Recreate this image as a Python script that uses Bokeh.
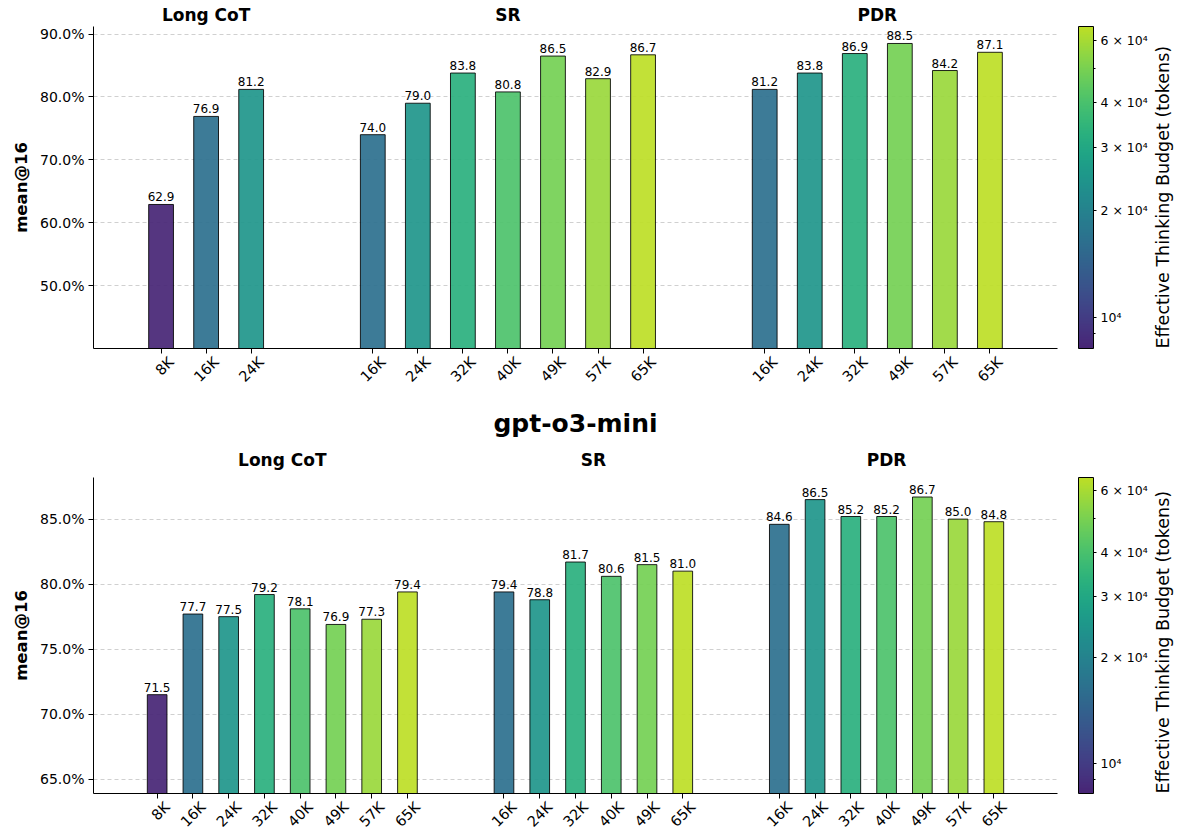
import numpy as np
from bokeh.plotting import figure
from bokeh.models import (ColumnDataSource, FixedTicker, CustomJSTickFormatter, PrintfTickFormatter,
                          LinearAxis, ColorBar, LogColorMapper, Title, Label, Range1d)
from bokeh.layouts import column
from bokeh.palettes import Viridis256
from bokeh.core.properties import value
from bokeh.embed import file_html
from bokeh.resources import INLINE

# ---------------- data ----------------
budget_tokens = {"8K": 8192, "16K": 16384, "24K": 24576, "32K": 32768,
                 "40K": 40960, "49K": 49152, "57K": 57344, "65K": 65536}
method_names = ["Long CoT", "SR", "PDR"]

top_cot_budgets = ["8K", "16K", "24K"]
top_cot_values = [62.9, 76.9, 81.2]
top_sr_budgets = ["16K", "24K", "32K", "40K", "49K", "57K", "65K"]
top_sr_values = [74.0, 79.0, 83.8, 80.8, 86.5, 82.9, 86.7]
top_pdr_budgets = ["16K", "24K", "32K", "49K", "57K", "65K"]
top_pdr_values = [81.2, 83.8, 86.9, 88.5, 84.2, 87.1]

bot_cot_budgets = ["8K", "16K", "24K", "32K", "40K", "49K", "57K", "65K"]
bot_cot_values = [71.5, 77.7, 77.5, 79.2, 78.1, 76.9, 77.3, 79.4]
bot_sr_budgets = ["16K", "24K", "32K", "40K", "49K", "65K"]
bot_sr_values = [79.4, 78.8, 81.7, 80.6, 81.5, 81.0]
bot_pdr_budgets = ["16K", "24K", "32K", "40K", "49K", "57K", "65K"]
bot_pdr_values = [84.6, 86.5, 85.2, 85.2, 86.7, 85.0, 84.8]

top_yticks = [50, 60, 70, 80, 90]
bot_yticks = [65, 70, 75, 80, 85]
cbar_ticks = [10000, 20000, 30000, 40000, 60000]
cbar_minor = [9000, 50000]
cbar_labels = ["10⁴", "2 × 10⁴", "3 × 10⁴", "4 × 10⁴", "6 × 10⁴"]
bottom_title = "gpt-o3-mini"
cbar_title = "Effective Thinking Budget (tokens)"
y_label = "mean@16"

# ---------------- style ----------------
FONT = "DejaVu Sans"
GAP = 1.7
BAR_W = 0.55
PAL = Viridis256[26:231]
TOK_LO, TOK_HI = 8192, 65536
FRAME_W = 964
XLAB_SIZE = 14.5
LABEL_SHIFT_PX = 0.354 * 1.956 * XLAB_SIZE
HAS_ORIENT = "axis_label_orientation" in LinearAxis.properties()
EMPTY = "return '';"


def make_panel(groups, y_lo, y_hi, yticks, pad, frame_h, min_top, min_bottom,
               group_standoff, title_text=None):
    xs, labels, vals, toks, centers = [], [], [], [], []
    start = 0.0
    for budgets, values in groups:
        pos = [start + i for i in range(len(budgets))]
        centers.append((pos[0] + pos[-1]) / 2.0)
        xs += pos
        labels += budgets
        vals += values
        toks += [budget_tokens[b] for b in budgets]
        start = pos[-1] + 1 + GAP
    src = ColumnDataSource(dict(x=xs, v=vals, tok=toks,
                                lbl=[f"{v:.1f}" for v in vals]))
    mapper = LogColorMapper(palette=PAL, low=TOK_LO, high=TOK_HI)
    x_lo, x_hi = xs[0] - pad, xs[-1] + pad

    p = figure(frame_width=FRAME_W, frame_height=frame_h,
               x_range=(x_lo, x_hi), y_range=(y_lo, y_hi),
               output_backend="svg", toolbar_location=None, tools="", title=None,
               min_border_left=93, min_border_right=116,
               min_border_top=min_top, min_border_bottom=min_bottom)
    p.outline_line_color = None
    p.background_fill_color = "white"
    p.xgrid.visible = False
    p.ygrid.ticker = FixedTicker(ticks=yticks)
    p.ygrid.grid_line_color = "#b0b0b0"
    p.ygrid.grid_line_alpha = 0.6
    p.ygrid.grid_line_dash = "4 3"

    p.vbar(x="x", top="v", bottom=0, width=BAR_W, source=src,
           fill_color={"field": "tok", "transform": mapper}, fill_alpha=0.92,
           line_color="black", line_width=1, line_alpha=0.85)
    p.text(x="x", y="v", text="lbl", source=src, text_align="center",
           text_baseline="bottom", y_offset=-3, text_font_size="12px",
           text_font=value(FONT), text_color="black")

    ya = p.yaxis[0]
    ya.ticker = FixedTicker(ticks=yticks)
    ya.formatter = PrintfTickFormatter(format="%.1f%%")
    ya.major_label_text_font_size = "14px"
    ya.major_label_text_font = FONT
    ya.major_label_text_color = "black"
    ya.axis_label = y_label
    ya.axis_label_text_font = FONT
    ya.axis_label_text_font_style = "bold"
    ya.axis_label_text_font_size = "16.5px"
    ya.axis_label_text_color = "black"
    ya.axis_label_standoff = 6
    ya.major_tick_in = 0
    ya.major_tick_out = 5
    ya.minor_tick_line_color = None
    ya.axis_line_color = "black"
    ya.major_label_standoff = 4

    # tick marks at the bar centres (labels drawn by a second axis)
    xa = p.xaxis[0]
    xa.ticker = FixedTicker(ticks=xs)
    xa.formatter = CustomJSTickFormatter(code=EMPTY)
    xa.major_label_text_font_size = "1px"
    xa.major_label_standoff = 0
    xa.major_tick_in = 0
    xa.major_tick_out = 5
    xa.minor_tick_line_color = None
    xa.axis_line_color = "black"

    # rotated labels, centred on their ticks (anchor shifted right by ~half a label)
    dx = LABEL_SHIFT_PX * (x_hi - x_lo) / FRAME_W
    p.extra_x_ranges = {"lab": Range1d(x_lo - dx, x_hi - dx)}
    la = LinearAxis(x_range_name="lab", ticker=FixedTicker(ticks=xs),
                    formatter=CustomJSTickFormatter(args=dict(labels=labels),
                                                    code="return labels[ticks.indexOf(tick)];"),
                    axis_line_color=None, major_tick_line_color=None,
                    minor_tick_line_color=None, major_tick_in=0, major_tick_out=0,
                    minor_tick_in=0, minor_tick_out=0,
                    major_label_orientation=np.pi / 4, major_label_standoff=6,
                    major_label_text_font=FONT, major_label_text_font_size=f"{XLAB_SIZE}px",
                    major_label_text_color="black")
    p.add_layout(la, "below")

    ga = LinearAxis(ticker=FixedTicker(ticks=centers),
                    formatter=CustomJSTickFormatter(args=dict(names=method_names),
                                                    code="return names[ticks.indexOf(tick)];"),
                    axis_line_color=None, major_tick_line_color=None,
                    minor_tick_line_color=None, major_tick_in=0, major_tick_out=0,
                    minor_tick_in=0, minor_tick_out=0,
                    major_label_text_font=FONT, major_label_text_font_style="bold",
                    major_label_text_font_size="17px", major_label_text_color="black",
                    major_label_standoff=group_standoff)
    p.add_layout(ga, "above")
    if title_text:
        p.add_layout(Title(text=title_text, align="center", text_font=FONT,
                           text_font_size="25px", text_font_style="bold",
                           text_color="black", standoff=17), "above")

    # spacer between frame and colour bar
    sp = LinearAxis(ticker=FixedTicker(ticks=[(y_lo + y_hi) / 2.0]),
                    formatter=CustomJSTickFormatter(code=EMPTY),
                    axis_line_color=None, major_tick_line_color="white",
                    minor_tick_line_color=None, major_tick_in=0, major_tick_out=21,
                    minor_tick_in=0, minor_tick_out=0,
                    major_label_standoff=0, major_label_text_font_size="1px")
    p.add_layout(sp, "right")

    cb = ColorBar(color_mapper=mapper,
                  ticker=FixedTicker(ticks=cbar_ticks, minor_ticks=cbar_minor),
                  formatter=CustomJSTickFormatter(args=dict(labels=cbar_labels),
                                                  code="return labels[ticks.indexOf(tick)];"),
                  width=15, margin=0, padding=0,
                  bar_line_color="black", bar_line_width=1,
                  major_tick_in=0, major_tick_out=3, major_tick_line_color="black",
                  minor_tick_in=0, minor_tick_out=2, minor_tick_line_color="black",
                  major_label_text_font=FONT, major_label_text_font_size="12.5px",
                  major_label_text_color="black",
                  label_standoff=4, background_fill_alpha=0)
    p.add_layout(cb, "right")
    if HAS_ORIENT:
        ta = LinearAxis(ticker=FixedTicker(ticks=[]), axis_line_color=None,
                        major_tick_line_color=None, minor_tick_line_color=None,
                        major_tick_in=0, major_tick_out=0, minor_tick_in=0, minor_tick_out=0,
                        major_label_standoff=0, major_label_text_font_size="1px",
                        axis_label=cbar_title, axis_label_text_font=FONT,
                        axis_label_text_font_size="17.5px", axis_label_text_font_style="normal",
                        axis_label_text_color="black", axis_label_standoff=12,
                        axis_label_align="start")
        ta.axis_label_orientation = np.pi / 2
        p.add_layout(ta, "right")
    else:
        p.add_layout(Label(x=x_hi, y=(y_lo + y_hi) / 2.0, x_offset=103,
                           text=cbar_title, angle=np.pi / 2, text_align="center",
                           text_baseline="middle", text_font=FONT, text_font_size="17px",
                           text_color="black"))
    return p


p_top = make_panel([(top_cot_budgets, top_cot_values),
                    (top_sr_budgets, top_sr_values),
                    (top_pdr_budgets, top_pdr_values)],
                   40.0, 91.2, top_yticks, 1.5, 322, 26, 47, 2)
p_bot = make_panel([(bot_cot_budgets, bot_cot_values),
                    (bot_sr_budgets, bot_sr_values),
                    (bot_pdr_budgets, bot_pdr_values)],
                   63.9, 88.2, bot_yticks, 1.78, 316, 82, 38, 8, title_text=bottom_title)

layout = column(p_top, p_bot, spacing=0)
open("out.html", "w").write(file_html(layout, INLINE))
